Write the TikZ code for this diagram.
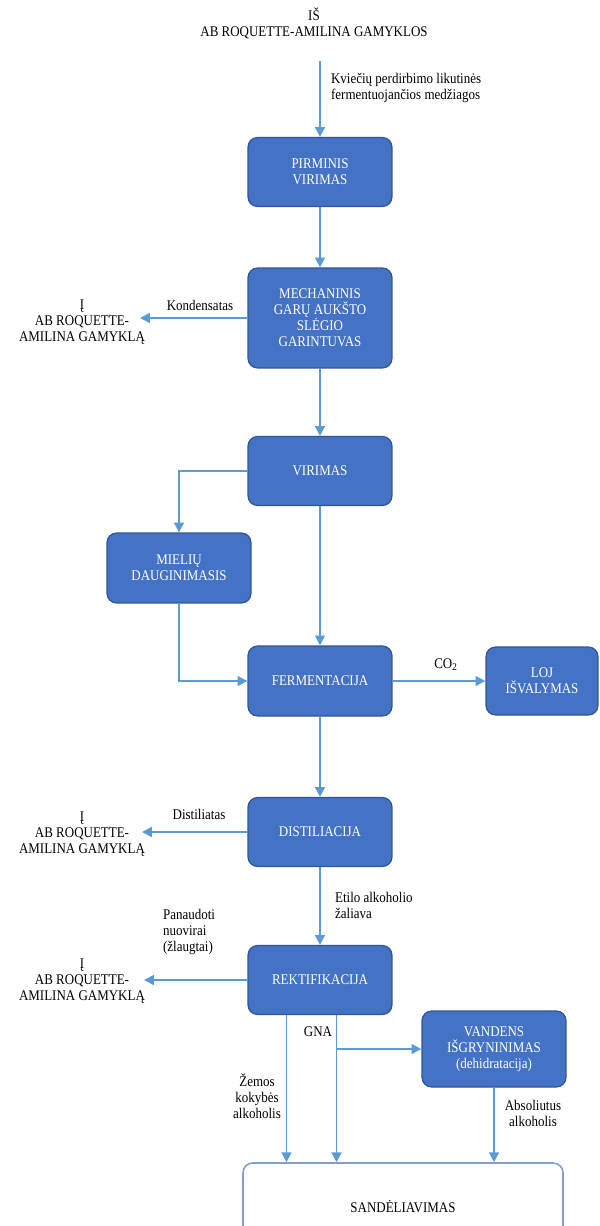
\documentclass[tikz,border=0pt]{standalone}
\usepackage{fontspec}
\setmainfont{Liberation Serif}[FakeStretch=0.88]
\usepackage{tikz}
\usetikzlibrary{arrows.meta,positioning,calc}
\definecolor{boxblue}{HTML}{4472C4}
\definecolor{boxedge}{HTML}{2F5597}
\definecolor{flowblue}{HTML}{5B9BD5}
\definecolor{storeedge}{HTML}{7F9FD6}

\begin{document}
\begin{tikzpicture}[x=0.02cm, y=-0.02cm,
        every node/.style={inner sep=1pt, font=\fontsize{8.4}{9.1}\selectfont},
        procbox/.style={draw=boxedge, line width=0.7pt, fill=boxblue,
        rounded corners=5.5pt, text=white, align=center,
        minimum width=2.88cm, minimum height=1.38cm},
        storebox/.style={draw=storeedge, line width=0.9pt, fill=white,
        rounded corners=5.5pt, align=center,
        minimum width=6.4cm, minimum height=1.76cm},
        lbl/.style={align=center},
        flow/.style={draw=flowblue, line width=1.1pt,
        -{Triangle[width=5.6pt,length=5.6pt]}}]
    \useasboundingbox (0,0) rectangle (599,1226);
    \clip (0,0) rectangle (599,1226);

    \node[lbl] (nodeSrc) at (314,23) {IŠ\\AB ROQUETTE-AMILINA GAMYKLOS};
    \coordinate (srcOut) at (320,61);
    \node[procbox] (nodePirm) at (320,172) {PIRMINIS\\VIRIMAS};
    \node[procbox, minimum height=2cm] (nodeMech) at (320,318) 
        {MECHANINIS\\GARŲ AUKŠTO\\SLĖGIO\\GARINTUVAS};
    \node[procbox] (nodeVir) at (320,471) {VIRIMAS};
    \node[procbox, minimum height=1.4cm] (nodeMiel) at (179,568) 
        {MIELIŲ\\DAUGINIMASIS};
    \node[procbox, minimum height=1.4cm] (nodeFerm) at (320,681) 
        {FERMENTACIJA};
    \node[procbox, minimum width=2.24cm, minimum height=1.36cm] (nodeLoj) 
        at (542,681) {LOJ\\IŠVALYMAS};
    \node[procbox] (nodeDist) at (320,832) {DISTILIACIJA};
    \node[procbox] (nodeRekt) at (320,980) {REKTIFIKACIJA};
    \node[procbox, minimum height=1.52cm] (nodeVand) at (494,1049) 
        {VANDENS\\IŠGRYNINIMAS\\(dehidratacija)};
    \node[storebox] (nodeStore) at (403,1207) {SANDĖLIAVIMAS};

    \node[lbl, align=left, anchor=west] (lblKvi) at (329,88) 
        {Kviečių perdirbimo likutinės\\fermentuojančios medžiagos};
    \node[lbl] (lblKond) at (200,305) {Kondensatas};
    \node[lbl] (nodeOut1) at (82,322) {Į\\AB ROQUETTE-\\AMILINA GAMYKLĄ};
    \coordinate (toOut1) at (140,318);
    \node[lbl] (lblCO) at (446,665) {CO\textsubscript{2}};
    \node[lbl] (lblDist) at (199,814) {Distiliatas};
    \node[lbl] (nodeOut2) at (82,834) {Į\\AB ROQUETTE-\\AMILINA GAMYKLĄ};
    \coordinate (toOut2) at (142,832);
    \node[lbl, align=left, anchor=west] (lblEtil) at (333,905) 
        {Etilo alkoholio\\žaliava};
    \node[lbl, align=left, anchor=west] (lblNuo) at (161,932) 
        {Panaudoti\\nuovirai\\(žlaugtai)};
    \node[lbl] (nodeOut3) at (82,981) {Į\\AB ROQUETTE-\\AMILINA GAMYKLĄ};
    \coordinate (toOut3) at (144,980);
    \node[lbl] (lblGNA) at (318,1032) {GNA};
    \node[lbl] (lblZem) at (257,1096) {Žemos\\kokybės\\alkoholis};
    \node[lbl] (lblAbs) at (533,1113) {Absoliutus\\alkoholis};
    \coordinate (lowTop) at ($(nodeRekt.south)+(-33.5,0)$);
    \coordinate (gnaTop) at ($(nodeRekt.south)+(16.5,0)$);

    \draw[flow] (srcOut) -- 
                (nodePirm.north);
    \draw[flow] (nodePirm) -- 
                (nodeMech);
    \draw[flow] (nodeMech.west) -- 
                (toOut1);
    \draw[flow] (nodeMech) -- 
                (nodeVir);
    \draw[flow] (nodeVir.west) -| 
                (nodeMiel.north);
    \draw[flow] (nodeVir) -- 
                (nodeFerm);
    \draw[flow] (nodeMiel.south) |- 
                (nodeFerm.west);
    \draw[flow] (nodeFerm.east) -- 
                (nodeLoj.west);
    \draw[flow] (nodeFerm) -- 
                (nodeDist);
    \draw[flow] (nodeDist.west) -- 
                (toOut2);
    \draw[flow] (nodeDist) -- 
                (nodeRekt);
    \draw[flow] (nodeRekt.west) -- 
                (toOut3);
    \draw[flow] (lowTop) -- 
                (lowTop |- nodeStore.north);
    \draw[flow] (gnaTop) -- 
                (gnaTop |- nodeStore.north);
    \draw[flow] (gnaTop |- nodeVand.west) -- 
                (nodeVand.west);
    \draw[flow] (nodeVand.south) -- 
                (nodeVand.south |- nodeStore.north);

\end{tikzpicture}
\end{document}
